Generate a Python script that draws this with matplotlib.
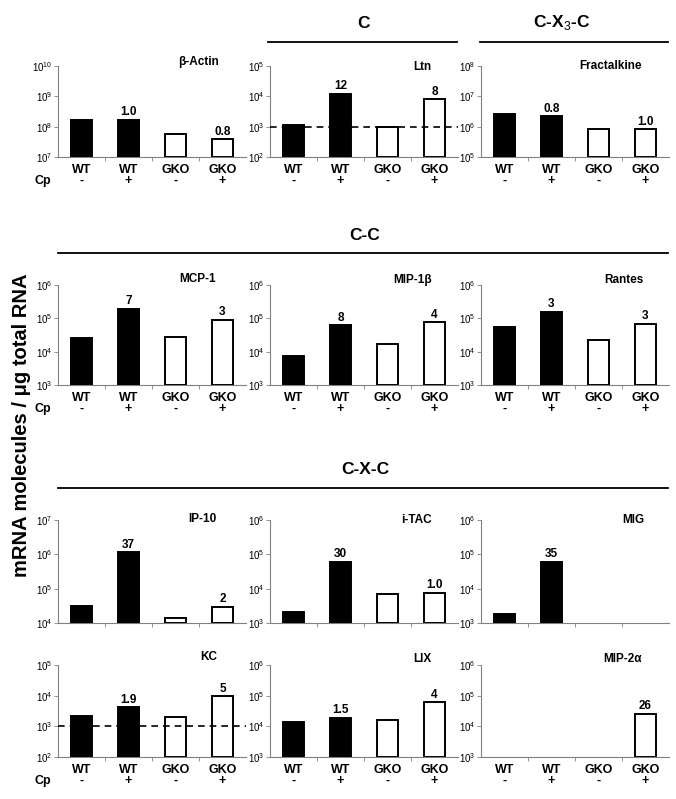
import numpy as np
import matplotlib
matplotlib.use("Agg")
from matplotlib import pyplot as plt
from matplotlib.ticker import FixedLocator, NullFormatter

plt.rcParams['font.family'] = ['Liberation Sans', 'DejaVu Sans']
plt.rcParams['mathtext.fontset'] = 'custom'
plt.rcParams['mathtext.rm'] = 'Liberation Sans'

groups = ["WT\n-", "WT\n+", "GKO\n-", "GKO\n+"]
nan = np.nan

# values in mRNA molecules / ug total RNA
beta_actin = [1.7e8, 1.7e8, 5.7e7, 3.9e7]
ltn = [1.1e3, 1.2e4, 1.0e3, 8.0e3]
fractalkine = [2.7e6, 2.2e6, 8.2e5, 8.2e5]
mcp1 = [2.6e4, 1.9e5, 2.8e4, 9.0e4]
mip1b = [7.6e3, 6.2e4, 1.7e4, 7.6e4]
rantes = [5.6e4, 1.55e5, 2.2e4, 6.9e4]
ip10 = [3.2e4, 1.15e6, 1.4e4, 3.0e4]
itac = [2.1e3, 6.0e4, 7.0e3, 7.5e3]
mig = [1.8e3, 6.0e4, nan, nan]
kc = [2.1e3, 4.2e3, 2.0e3, 9.5e3]
lix = [1.4e4, 1.9e4, 1.6e4, 6.2e4]
mip2a = [nan, nan, nan, 2.6e4]

# name, values, fold labels, decades shown, dashed reference level
panels = [
    ("β-Actin", beta_actin, ["", "1.0", "", "0.8"], (7, 10), None),
    ("Ltn", ltn, ["", "12", "", "8"], (2, 5), 1e3),
    ("Fractalkine", fractalkine, ["", "0.8", "", "1.0"], (5, 8), None),
    ("MCP-1", mcp1, ["", "7", "", "3"], (3, 6), None),
    ("MIP-1β", mip1b, ["", "8", "", "4"], (3, 6), None),
    ("Rantes", rantes, ["", "3", "", "3"], (3, 6), None),
    ("IP-10", ip10, ["", "37", "", "2"], (4, 7), None),
    ("i-TAC", itac, ["", "30", "", "1.0"], (3, 6), None),
    ("MIG", mig, ["", "35", "", ""], (3, 6), None),
    ("KC", kc, ["", "1.9", "", "5"], (2, 5), 1e3),
    ("LIX", lix, ["", "1.5", "", "4"], (3, 6), None),
    ("MIP-2α", mip2a, ["", "", "", "26"], (3, 6), None),
]

# layout (pixels)
W, H = 676, 799
col_left = [58, 270, 481]
col_w = 188
row_tb = [(66, 157), (285, 385), (520, 623), (665, 757)]
title_x = [0.745, 0.81, 0.69, 0.74, 0.76, 0.76, 0.77, 0.78, 0.81, 0.80, 0.81, 0.75]
title_y = [62, 67, 66, 279, 280, 280, 519, 520, 520, 657, 659, 659]
xlabel_rows = [0, 1, 3]

fig = plt.figure(figsize=(W / 100, H / 100), dpi=100)

x = np.arange(4)
colors = ["black", "black", "white", "white"]

for i, (name, vals, folds, (lo, hi), dash) in enumerate(panels):
    r, c = divmod(i, 3)
    top, bot = row_tb[r]
    ax = fig.add_axes([col_left[c] / W, 1 - bot / H, col_w / W, (bot - top) / H])
    ax.patch.set_visible(False)
    vals = np.array(vals, dtype=float)
    base = 10.0 ** lo
    ok = ~np.isnan(vals)
    ax.bar(x[ok], vals[ok] - base, bottom=base, width=0.43,
           color=[colors[k] for k in x[ok]], edgecolor="black", linewidth=1.4, zorder=3)
    ax.set_yscale("log")
    ax.set_ylim(base, 10.0 ** hi)
    ax.set_xlim(-0.5, 3.5)
    ax.yaxis.set_major_locator(FixedLocator([10.0 ** k for k in range(lo, hi + 1)]))
    ax.yaxis.set_minor_locator(FixedLocator([]))
    ax.set_yticklabels([r"$10^{%d}$" % k for k in range(lo, hi + 1)], fontsize=7)
    ax.tick_params(axis="y", length=3, width=0.6, color="gray", pad=1)
    ax.set_xticks(x)
    if r in xlabel_rows:
        ax.set_xticklabels(groups, fontsize=9, fontweight="bold", linespacing=0.85)
    else:
        ax.set_xticklabels([])
    ax.tick_params(axis="x", length=0, pad=5)
    ax.set_xticks([0.5, 1.5, 2.5], minor=True)
    ax.xaxis.set_minor_formatter(NullFormatter())
    ax.tick_params(axis="x", which="minor", length=3, width=0.6, color="gray", direction="out")
    for s in ["top", "right"]:
        ax.spines[s].set_visible(False)
    for s in ["left", "bottom"]:
        ax.spines[s].set_color("gray")
        ax.spines[s].set_linewidth(0.8)
    if dash is not None:
        ax.axhline(dash, color="black", ls=(0, (4, 3)), lw=1.2, zorder=4)
    for k in range(4):
        if folds[k]:
            ax.text(x[k], vals[k] * 1.12, folds[k], ha="center", va="bottom",
                    fontsize=8.5, fontweight="bold", zorder=5)
    fig.text((col_left[c] + title_x[i] * col_w) / W, 1 - title_y[i] / H, name,
             ha="center", va="center", fontsize=8.5, fontweight="bold", zorder=10)
    if c == 0 and r in xlabel_rows:
        fig.text(43 / W, 1 - (bot + 24) / H, "Cp", ha="center", va="center",
                 fontsize=9, fontweight="bold")


def header(text, xc, yt, x0, x1, yl):
    fig.text(xc / W, 1 - yt / H, text, ha="center", va="center", fontsize=12.5, fontweight="bold")
    fig.add_artist(plt.Line2D([x0 / W, x1 / W], [1 - yl / H, 1 - yl / H], color="black", lw=1.3))


header("C", 363, 23, 268, 457, 42)
header("C-X$_3$-C", 562, 22, 480, 668, 42)
header("C-C", 365, 236, 58, 668, 253)
header("C-X-C", 365, 470, 58, 668, 488)

fig.text(22 / W, 1 - 425 / H, "mRNA molecules / μg total RNA", rotation=90,
         ha="center", va="center", fontsize=14.5, fontweight="bold")

fig.savefig("out.png", dpi=100, facecolor="white")
